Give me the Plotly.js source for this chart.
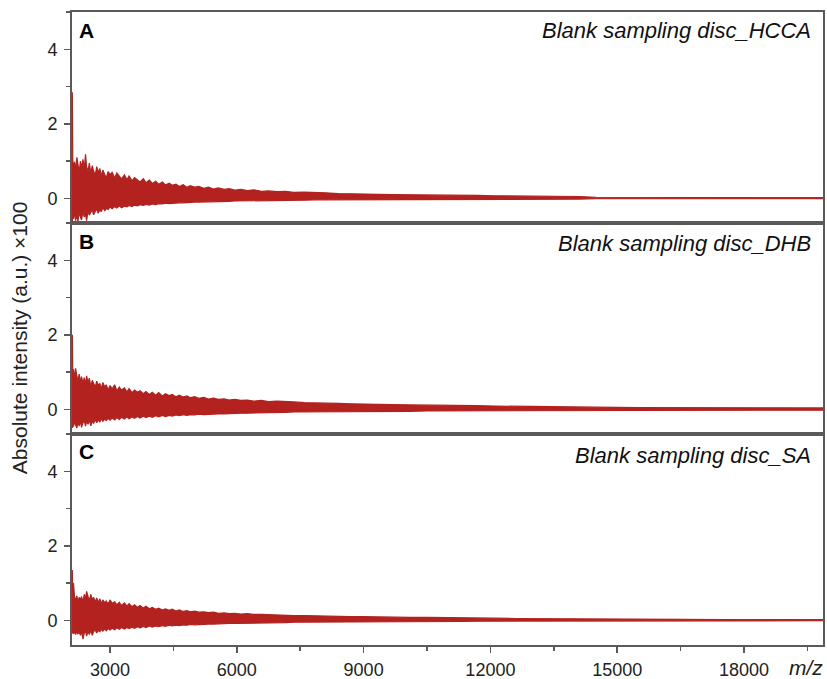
<!DOCTYPE html>
<html>
<head>
<meta charset="utf-8">
<script src="https://cdn.plot.ly/plotly-3.0.1.min.js"></script>
<style>
html,body{margin:0;padding:0;background:#fff;}
#chart{width:827px;height:679px;}
</style>
</head>
<body>
<div id="chart"></div>
<script>
const mz = [
  2100, 2108, 2118, 2135, 2160, 2185, 2215, 2240, 2270, 2300,
  2325, 2360, 2390, 2420, 2445, 2480, 2510, 2545, 2580, 2610,
  2650, 2685, 2720, 2760, 2790, 2830, 2875, 2910, 2955, 3000,
  3050, 3110, 3160, 3220, 3270, 3340, 3400, 3450, 3520, 3580,
  3650, 3710, 3790, 3850, 3930, 4000, 4080, 4150, 4240, 4310,
  4400, 4470, 4560, 4640, 4730, 4820, 4900, 5000, 5100, 5220,
  5330, 5450, 5560, 5700, 5820, 5950, 6100, 6250, 6400, 6580,
  6750, 6950, 7150, 7350, 7600, 7850, 8100, 8400, 8700, 9000,
  9350, 9700, 10100, 10500, 10900, 11300, 11700, 12100, 12600, 13100,
  13600, 14100, 14500, 15500, 16500, 17500, 18500, 19500, 19900
];

// Panel A: Blank sampling disc_HCCA (upper / lower envelope, ×100 a.u.)
const hccaUpper = [
  1.5, 2.85, 1.05, 0.8, 0.98, 0.75, 1.1, 0.9, 0.7, 1.0,
  0.82, 1.05, 0.78, 1.18, 0.85, 0.72, 0.95, 0.68, 0.88, 0.74,
  0.62, 0.85, 0.7, 0.8, 0.6, 0.76, 0.66, 0.55, 0.72, 0.64,
  0.7, 0.55, 0.68, 0.58, 0.52, 0.63, 0.5, 0.6, 0.47, 0.56,
  0.5, 0.44, 0.53, 0.42, 0.49, 0.4, 0.46, 0.38, 0.44, 0.36,
  0.41, 0.35, 0.38, 0.32, 0.37, 0.3, 0.34, 0.3, 0.32, 0.27,
  0.3, 0.25, 0.28, 0.24, 0.26, 0.22, 0.24, 0.21, 0.23, 0.19,
  0.2, 0.18, 0.19, 0.16, 0.17, 0.15, 0.15, 0.13, 0.13, 0.12,
  0.11, 0.1, 0.1, 0.09, 0.09, 0.08, 0.08, 0.07, 0.07, 0.06,
  0.06, 0.05, 0.03, 0.03, 0.02, 0.02, 0.02, 0.02, 0.02
];
const hccaLower = [
  -0.3, -0.62, -0.4, -0.55, -0.35, -0.6, -0.45, -0.62, -0.38, -0.5,
  -0.58, -0.35, -0.5, -0.42, -0.6, -0.33, -0.45, -0.38, -0.3, -0.44,
  -0.35, -0.28, -0.4, -0.3, -0.36, -0.25, -0.33, -0.27, -0.3, -0.23,
  -0.28, -0.22, -0.26, -0.2, -0.25, -0.21, -0.23, -0.19, -0.22, -0.18,
  -0.2, -0.17, -0.19, -0.16, -0.18, -0.15, -0.17, -0.14, -0.15, -0.13,
  -0.14, -0.13, -0.13, -0.12, -0.12, -0.11, -0.11, -0.1, -0.1, -0.1,
  -0.09, -0.09, -0.08, -0.08, -0.08, -0.07, -0.07, -0.07, -0.06, -0.06,
  -0.06, -0.05, -0.05, -0.05, -0.05, -0.04, -0.04, -0.04, -0.04, -0.04,
  -0.03, -0.03, -0.03, -0.03, -0.03, -0.03, -0.03, -0.02, -0.02, -0.02,
  -0.02, -0.02, -0.01, -0.01, -0.01, -0.01, -0.01, -0.01, -0.01
];

// Panel B: Blank sampling disc_DHB
const dhbUpper = [
  1.2, 2.0, 0.95, 1.08, 0.82, 1.1, 0.9, 0.75, 0.95, 0.72,
  0.88, 0.7, 0.85, 0.66, 0.9, 0.72, 0.84, 0.62, 0.78, 0.68,
  0.6, 0.76, 0.64, 0.7, 0.55, 0.72, 0.6, 0.66, 0.52, 0.64,
  0.55, 0.66, 0.5, 0.6, 0.52, 0.58, 0.47, 0.56, 0.45, 0.52,
  0.46, 0.5, 0.42, 0.48, 0.4, 0.46, 0.38, 0.45, 0.36, 0.42,
  0.37, 0.4, 0.34, 0.38, 0.33, 0.36, 0.31, 0.34, 0.3, 0.32,
  0.28, 0.3, 0.27, 0.28, 0.25, 0.27, 0.24, 0.25, 0.22, 0.24,
  0.21, 0.22, 0.2, 0.2, 0.18, 0.18, 0.17, 0.16, 0.15, 0.15,
  0.14, 0.13, 0.12, 0.12, 0.11, 0.1, 0.1, 0.09, 0.08, 0.08,
  0.07, 0.07, 0.06, 0.05, 0.05, 0.04, 0.04, 0.04, 0.04
];
const dhbLower = [
  -0.3, -0.5, -0.32, -0.46, -0.3, -0.42, -0.5, -0.33, -0.45, -0.3,
  -0.48, -0.36, -0.3, -0.45, -0.32, -0.4, -0.28, -0.44, -0.3, -0.38,
  -0.27, -0.36, -0.28, -0.34, -0.25, -0.32, -0.26, -0.3, -0.24, -0.29,
  -0.23, -0.28, -0.22, -0.27, -0.21, -0.26, -0.2, -0.25, -0.2, -0.24,
  -0.19, -0.23, -0.18, -0.22, -0.18, -0.21, -0.17, -0.2, -0.16, -0.19,
  -0.16, -0.18, -0.15, -0.17, -0.14, -0.16, -0.14, -0.15, -0.13, -0.14,
  -0.13, -0.13, -0.12, -0.12, -0.11, -0.11, -0.1, -0.1, -0.1, -0.09,
  -0.09, -0.08, -0.08, -0.07, -0.07, -0.07, -0.06, -0.06, -0.06, -0.05,
  -0.05, -0.05, -0.05, -0.04, -0.04, -0.04, -0.04, -0.03, -0.03, -0.03,
  -0.03, -0.03, -0.02, -0.02, -0.02, -0.02, -0.02, -0.02, -0.02
];

// Panel C: Blank sampling disc_SA
const saUpper = [
  0.75, 1.35, 0.65, 1.0, 0.62, 0.55, 0.66, 0.5, 0.62, 0.55,
  0.64, 0.5, 0.7, 0.58, 0.78, 0.6, 0.52, 0.7, 0.55, 0.62,
  0.5, 0.6, 0.48, 0.58, 0.45, 0.55, 0.47, 0.52, 0.44, 0.55,
  0.46, 0.5, 0.42, 0.48, 0.4, 0.47, 0.38, 0.45, 0.37, 0.42,
  0.35, 0.4, 0.33, 0.38, 0.31, 0.35, 0.3, 0.33, 0.28, 0.31,
  0.27, 0.3, 0.25, 0.28, 0.24, 0.26, 0.23, 0.25, 0.22, 0.23,
  0.21, 0.22, 0.19, 0.2, 0.18, 0.19, 0.17, 0.18, 0.16, 0.16,
  0.15, 0.15, 0.14, 0.13, 0.13, 0.12, 0.11, 0.11, 0.1, 0.1,
  0.09, 0.09, 0.08, 0.08, 0.07, 0.07, 0.06, 0.06, 0.05, 0.05,
  0.04, 0.04, 0.03, 0.03, 0.03, 0.02, 0.02, 0.02, 0.02
];
const saLower = [
  -0.2, -0.35, -0.28, -0.36, -0.3, -0.38, -0.3, -0.36, -0.32, -0.4,
  -0.3, -0.5, -0.34, -0.28, -0.42, -0.3, -0.38, -0.27, -0.4, -0.3,
  -0.26, -0.34, -0.27, -0.3, -0.24, -0.29, -0.23, -0.28, -0.22, -0.26,
  -0.21, -0.25, -0.2, -0.24, -0.19, -0.23, -0.19, -0.22, -0.18, -0.21,
  -0.17, -0.2, -0.16, -0.19, -0.15, -0.18, -0.15, -0.17, -0.14, -0.16,
  -0.13, -0.15, -0.13, -0.14, -0.12, -0.13, -0.11, -0.12, -0.11, -0.11,
  -0.1, -0.1, -0.09, -0.09, -0.08, -0.08, -0.08, -0.07, -0.07, -0.07,
  -0.06, -0.06, -0.06, -0.05, -0.05, -0.05, -0.04, -0.04, -0.04, -0.04,
  -0.03, -0.03, -0.03, -0.03, -0.03, -0.03, -0.02, -0.02, -0.02, -0.02,
  -0.02, -0.02, -0.01, -0.01, -0.01, -0.01, -0.01, -0.01, -0.01
];

const panelLetters = ['A', 'B', 'C'];
const panelLabels = ['Blank sampling disc_HCCA', 'Blank sampling disc_DHB', 'Blank sampling disc_SA'];
const yTickVals = [0, 2, 4];
const xTickVals = [3000, 6000, 9000, 12000, 15000, 18000];

const RED = '#b3221f';
const FONT = 'Liberation Sans, Arial, Helvetica, sans-serif';
const AXC = '#5a5a5a';

const series = [[hccaUpper, hccaLower], [dhbUpper, dhbLower], [saUpper, saLower]];
const traces = [];
series.forEach((s, i) => {
  const xa = i === 0 ? 'x' : 'x' + (i + 1);
  const ya = i === 0 ? 'y' : 'y' + (i + 1);
  traces.push({x: mz, y: s[1], xaxis: xa, yaxis: ya, type: 'scatter', mode: 'lines',
    line: {color: RED, width: 1.2}, hoverinfo: 'skip', showlegend: false});
  traces.push({x: mz, y: s[0], xaxis: xa, yaxis: ya, type: 'scatter', mode: 'lines',
    line: {color: RED, width: 1.2}, fill: 'tonexty', fillcolor: RED, hoverinfo: 'skip', showlegend: false});
});

const domains = [[0.6667, 1], [0.3333, 0.6667], [0, 0.3333]];
const letterY = [0.970, 0.638, 0.305];
const labelY = [0.970, 0.635, 0.300];
const layout = {
  width: 827, height: 679,
  margin: {l: 72, r: 4, t: 12, b: 34},
  paper_bgcolor: '#fff', plot_bgcolor: '#fff',
  font: {family: FONT, size: 18, color: '#222'},
  showlegend: false,
  hovermode: false,
  annotations: []
};
for (let i = 0; i < 3; i++) {
  const sfx = i === 0 ? '' : String(i + 1);
  const bottom = i === 2;
  layout['xaxis' + sfx] = {
    domain: [0, 1], anchor: 'y' + sfx, range: [2100, 19870],
    showline: true, mirror: true, linecolor: AXC, linewidth: 2,
    showgrid: false, zeroline: false,
    tickvals: xTickVals, ticktext: xTickVals.map(String),
    ticks: bottom ? 'outside' : '', ticklen: 6, tickwidth: 1.5, tickcolor: AXC,
    ticklabelstandoff: 1,
    showticklabels: bottom,
    minor: bottom ? {ticks: 'outside', tick0: 0, dtick: 1500, ticklen: 4, tickwidth: 1.5, tickcolor: AXC} : {ticks: ''},
    tickfont: {family: FONT, size: 18, color: '#222'}
  };
  layout['yaxis' + sfx] = {
    domain: domains[i], anchor: 'x' + sfx, range: [-0.66, 5.0],
    showline: true, mirror: true, linecolor: AXC, linewidth: 2,
    showgrid: false, zeroline: false,
    tickvals: yTickVals, ticktext: yTickVals.map(String),
    ticks: 'outside', ticklen: 6, tickwidth: 1.5, tickcolor: AXC,
    ticklabelstandoff: 3,
    minor: {ticks: 'outside', tick0: 0, dtick: 1, ticklen: 4, tickwidth: 1.5, tickcolor: AXC},
    tickfont: {family: FONT, size: 18, color: '#222'}
  };
  layout.annotations.push({
    xref: 'paper', yref: 'paper', x: 0.006, y: letterY[i], xanchor: 'left', yanchor: 'middle',
    text: '<b>' + panelLetters[i] + '</b>', showarrow: false,
    font: {family: FONT, size: 21, color: '#000'}
  });
  layout.annotations.push({
    xref: 'paper', yref: 'paper', x: 0.987, y: labelY[i], xanchor: 'right', yanchor: 'middle',
    text: '<i>' + panelLabels[i] + '</i>', showarrow: false,
    font: {family: FONT, size: 22, color: '#111'}
  });
}
layout.annotations.push({
  xref: 'paper', yref: 'paper', x: -0.069, y: 0.485, xanchor: 'center', yanchor: 'middle',
  textangle: -90, text: 'Absolute intensity (a.u.) ×100', showarrow: false,
  font: {family: FONT, size: 21, color: '#222'}
});
layout.annotations.push({
  xref: 'paper', yref: 'paper', x: 1.002, y: -0.036, xanchor: 'right', yanchor: 'middle',
  text: '<i>m/z</i>', showarrow: false,
  font: {family: FONT, size: 21, color: '#222'}
});

Plotly.newPlot('chart', traces, layout, {displayModeBar: false, staticPlot: true});
</script>
</body>
</html>
